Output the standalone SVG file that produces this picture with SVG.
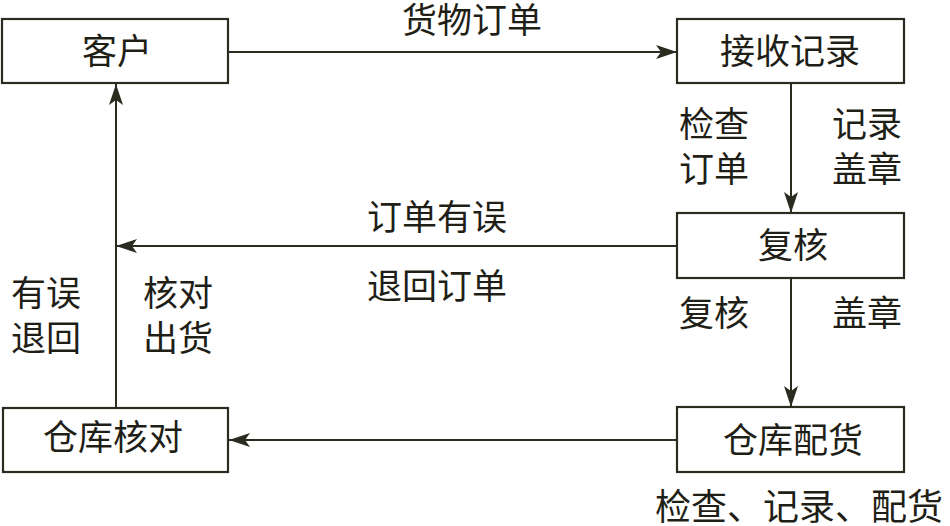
<svg xmlns="http://www.w3.org/2000/svg" width="950" height="526" viewBox="0 0 950 526">
<style>
.box{fill:#fff;stroke:#2b2b1f;stroke-width:2.2}
.ln{fill:none;stroke:#2b2b1f;stroke-width:2;marker-end:url(#ah)}
text{font-family:"Noto Sans CJK SC","Noto Sans CJK JP",sans-serif;font-size:35px;fill:#1f1f17;text-anchor:middle}
</style>
<defs>
<marker id="ah" markerWidth="22" markerHeight="16" viewBox="0 0 22 16" refX="21" refY="8" orient="auto" markerUnits="userSpaceOnUse">
<path d="M0,1 L21,8 L0,15 L5,8 Z" fill="#2b2b1f"/>
</marker>
</defs>
<rect width="950" height="526" fill="#fff"/>
<g id="connectors">
<line class="ln" x1="228" y1="52" x2="677" y2="52"/>
<line class="ln" x1="791" y1="83" x2="791" y2="213"/>
<line class="ln" x1="677" y1="246" x2="116" y2="246"/>
<line class="ln" x1="791" y1="278" x2="791" y2="407"/>
<line class="ln" x1="677" y1="440" x2="229" y2="440"/>
<line class="ln" x1="116" y1="408" x2="116" y2="84"/>
<text x="472" y="33">货物订单</text>
<text x="714" y="137">检查</text>
<text x="714" y="182">订单</text>
<text x="867" y="137">记录</text>
<text x="867" y="182">盖章</text>
<text x="437" y="230">订单有误</text>
<text x="437" y="299">退回订单</text>
<text x="714" y="326">复核</text>
<text x="867" y="326">盖章</text>
<text x="46" y="306">有误</text>
<text x="46" y="351">退回</text>
<text x="178" y="306">核对</text>
<text x="178" y="351">出货</text>
</g>
<g id="n1"><rect class="box" x="2" y="19" width="226" height="64"/><text x="117" y="64">客户</text></g>
<g id="n2"><rect class="box" x="677" y="19" width="227" height="64"/><text x="790" y="64">接收记录</text></g>
<g id="n3"><rect class="box" x="677" y="213" width="227" height="65"/><text x="793" y="258">复核</text></g>
<g id="n4"><rect class="box" x="677" y="407" width="227" height="65"/><text x="793" y="453">仓库配货</text><text x="799" y="520" style="font-size:36px">检查、记录、配货</text></g>
<g id="n5"><rect class="box" x="3" y="408" width="225" height="64"/><text x="113" y="450">仓库核对</text></g>
</svg>
